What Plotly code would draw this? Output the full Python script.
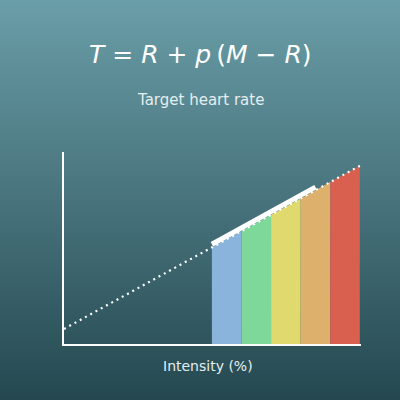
import base64
import plotly.graph_objects as go

# heart rate model T = R + p (M - R)
resting_hr = 60
max_hr = 190
line_pct = [0, 100]

zone_starts = [50, 60, 70, 80, 90]
zone_ends = [60, 70, 80, 90, 100]
zone_colors = ["#8AB4DC", "#7DD89A", "#E0DA6E", "#DDB06C", "#D9604F"]

target_pct = [50, 85]


def target(p):
    return resting_hr + p / 100 * (max_hr - resting_hr)


# background gradient as svg image
svg = (
    '<svg xmlns="http://www.w3.org/2000/svg" width="400" height="400">'
    '<defs><linearGradient id="g" x1="0" y1="0" x2="0" y2="1">'
    '<stop offset="0" stop-color="#6A9EA8"/>'
    '<stop offset="1" stop-color="#254850"/>'
    '</linearGradient></defs>'
    '<rect width="400" height="400" fill="url(#g)"/></svg>'
)
bg_src = "data:image/svg+xml;base64," + base64.b64encode(svg.encode()).decode()

fig = go.Figure()

# zone bars (top follows the target line)
for x0, x1, c in zip(zone_starts, zone_ends, zone_colors):
    fig.add_trace(go.Scatter(
        x=[x0, x0, x1, x1, x0],
        y=[0, target(x0), target(x1), 0, 0],
        fill="toself", fillcolor=c, mode="none",
        hoverinfo="skip", showlegend=False
    ))

# dotted line across full intensity range
fig.add_trace(go.Scatter(
    x=line_pct, y=[target(p) for p in line_pct],
    mode="lines", line=dict(color="white", width=2.2, dash="2px,4px"),
    hoverinfo="skip", showlegend=False
))

# highlighted target range
fig.add_trace(go.Scatter(
    x=target_pct, y=[target(p) + 2.5 for p in target_pct],
    mode="lines", line=dict(color="white", width=5),
    hoverinfo="skip", showlegend=False
))

fig.add_layout_image(dict(
    source=bg_src, xref="paper", yref="paper", x=0, y=1,
    sizex=1, sizey=1, sizing="stretch", layer="below"
))

title_txt = "<i>T</i> = <i>R</i> + <i>p</i>\u2009(<i>M</i> − <i>R</i>)"
fig.add_annotation(text=title_txt, xref="paper", yref="paper", x=0.5, y=1 - 54 / 400,
                   yanchor="middle", showarrow=False,
                   font=dict(family="DejaVu Sans", size=25, color="white"))
fig.add_annotation(text="Target heart rate", xref="paper", yref="paper", x=0.5, y=1 - 100 / 400,
                   yanchor="middle", showarrow=False,
                   font=dict(family="DejaVu Sans", size=15, color="#E4EEF0"))
fig.add_annotation(text="Intensity (%)", xref="paper", yref="paper", x=208 / 400, y=1 - 366 / 400,
                   yanchor="middle", showarrow=False,
                   font=dict(family="DejaVu Sans", size=14, color="#E4EEF0"))

fig.update_xaxes(domain=[64 / 400, 361 / 400], range=[0, 100.4], showline=True,
                 linecolor="white", linewidth=2, showgrid=False, zeroline=False,
                 showticklabels=False, ticks="")
fig.update_yaxes(domain=[56 / 400, 248 / 400], range=[48, 201], showline=True,
                 linecolor="white", linewidth=2, showgrid=False, zeroline=False,
                 showticklabels=False, ticks="")

fig.update_layout(
    width=400, height=400,
    margin=dict(l=0, r=0, t=0, b=0),
    paper_bgcolor="#3F6E78", plot_bgcolor="rgba(0,0,0,0)",
    showlegend=False
)

fig.write_html(
    "out.html",
    config={"displayModeBar": False},
    post_script="document.body.style.margin='0';document.body.style.overflow='hidden';"
)
